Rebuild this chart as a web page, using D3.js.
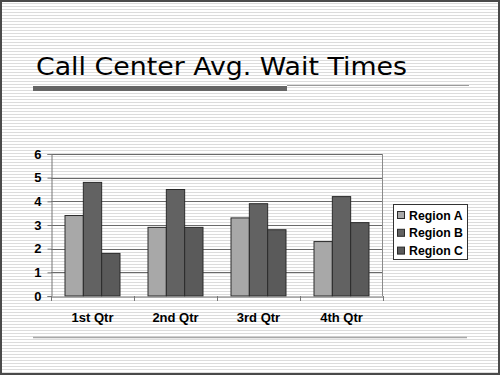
<!DOCTYPE html>
<html><head><meta charset="utf-8">
<script src="https://cdn.jsdelivr.net/npm/d3@7"></script>
<style>html,body{margin:0;padding:0;background:#fff;}svg{display:block;}</style>
</head><body>
<script>
const categories = ["1st Qtr", "2nd Qtr", "3rd Qtr", "4th Qtr"];
const seriesNames = ["Region A", "Region B", "Region C"];
const regionA = [3.4, 2.9, 3.3, 2.3];
const regionB = [4.8, 4.5, 3.9, 4.2];
const regionC = [1.8, 2.9, 2.8, 3.1];
const yTicks = [0, 1, 2, 3, 4, 5, 6];
const title = "Call Center Avg. Wait Times";

const seriesValues = [regionA, regionB, regionC];
const colors = ["#a8a8a8", "#626262", "#5a5a5a"];

const W = 500, H = 375;
const svg = d3.select("body").append("svg").attr("width", W).attr("height", H);

const defs = svg.append("defs");
const pat = defs.append("pattern").attr("id", "stripes").attr("patternUnits", "userSpaceOnUse")
  .attr("width", 6).attr("height", 3);
pat.append("rect").attr("width", 6).attr("height", 3).attr("fill", "#ffffff");
pat.append("rect").attr("y", 0).attr("width", 6).attr("height", 1).attr("fill", "#dcdcdc");

svg.append("rect").attr("width", W).attr("height", H).attr("fill", "url(#stripes)");
svg.append("rect").attr("x", 1).attr("y", 1).attr("width", W - 2).attr("height", H - 2)
  .attr("fill", "none").attr("stroke", "#4a4a4a").attr("stroke-width", 2);

// Title
svg.append("text").attr("x", 36).attr("y", 75).text(title)
  .attr("font-family", "DejaVu Sans").attr("font-size", 25).attr("fill", "#000")
  .attr("textLength", 371).attr("lengthAdjust", "spacingAndGlyphs");
svg.append("line").attr("x1", 287).attr("x2", 469).attr("y1", 85.5).attr("y2", 85.5)
  .attr("stroke", "#9a9a9a").attr("stroke-width", 1);
svg.append("rect").attr("x", 33).attr("y", 86).attr("width", 254).attr("height", 5).attr("fill", "#666");
// bottom rule
svg.append("line").attr("x1", 33).attr("x2", 467).attr("y1", 337.5).attr("y2", 337.5)
  .attr("stroke", "#a8a8a8").attr("stroke-width", 1.5);

// Scales
const x0 = d3.scaleBand().domain(categories).range([51, 383]).paddingInner(0).paddingOuter(0);
const bw = x0.bandwidth();
const x1 = d3.scaleBand().domain(seriesNames).range([bw * 14 / 83, bw * 69 / 83]).padding(0);
const y = d3.scaleLinear().domain([0, 6]).range([296, 154]);

// gridlines
svg.append("g").selectAll("line").data(yTicks.filter(d => d > 0)).join("line")
  .attr("x1", 51).attr("x2", 383)
  .attr("y1", d => Math.round(y(d)) + 0.5).attr("y2", d => Math.round(y(d)) + 0.5)
  .attr("stroke", "#6a6a6a").attr("stroke-width", 1);
// right border of plot
svg.append("line").attr("x1", 382.5).attr("x2", 382.5).attr("y1", y(6)).attr("y2", y(0))
  .attr("stroke", "#8a8a8a");

// bars
const groups = svg.append("g").selectAll("g").data(categories).join("g")
  .attr("transform", d => `translate(${x0(d)},0)`);
groups.selectAll("rect").data((c, i) => seriesNames.map((s, j) => ({ s, v: seriesValues[j][i], j })))
  .join("rect")
  .attr("x", d => x1(d.s)).attr("width", x1.bandwidth())
  .attr("y", d => y(d.v)).attr("height", d => y(0) - y(d.v))
  .attr("fill", d => colors[d.j]).attr("stroke", "#2a2a2a").attr("stroke-width", 1);

// Y axis
const yAxis = svg.append("g").attr("transform", "translate(51.5,0)")
  .call(d3.axisLeft(y).tickValues(yTicks).tickSize(4).tickPadding(6).tickFormat(d3.format("d")));
yAxis.select(".domain").attr("stroke", "#777");
yAxis.selectAll(".tick line").attr("stroke", "#777");
yAxis.selectAll("text").attr("font-family", "Liberation Sans, Arial, sans-serif")
  .attr("font-weight", "bold").attr("font-size", 13).attr("fill", "#000");

// X axis
const xAxis = svg.append("g").attr("transform", `translate(0,${Math.round(y(0)) + 0.5})`)
  .call(d3.axisBottom(x0).tickSize(0).tickPadding(16));
xAxis.select(".domain").attr("stroke", "#777");
xAxis.selectAll("text").attr("font-family", "Liberation Sans, Arial, sans-serif")
  .attr("font-weight", "bold").attr("font-size", 13).attr("fill", "#000");
// category boundary ticks
svg.append("g").selectAll("line").data(categories.concat(["end"])).join("line")
  .attr("x1", (d, i) => Math.round(i < categories.length ? x0(d) : x0(categories[3]) + bw) + 0.5)
  .attr("x2", (d, i) => Math.round(i < categories.length ? x0(d) : x0(categories[3]) + bw) + 0.5)
  .attr("y1", y(0)).attr("y2", y(0) + 5).attr("stroke", "#777");

// Legend
const lg = svg.append("g");
lg.append("rect").attr("x", 393.5).attr("y", 204.5).attr("width", 74).attr("height", 55)
  .attr("fill", "#fff").attr("stroke", "#333");
const li = lg.selectAll("g").data(seriesNames).join("g")
  .attr("transform", (d, i) => `translate(397,${215 + i * 17.8})`);
li.append("rect").attr("x", 0.5).attr("y", -3.5).attr("width", 7).attr("height", 7)
  .attr("fill", (d, i) => colors[i]).attr("stroke", "#2a2a2a");
li.append("text").attr("x", 12).attr("y", 4.5).text(d => d)
  .attr("font-family", "Liberation Sans, Arial, sans-serif").attr("font-weight", "bold")
  .attr("font-size", 12.3).attr("fill", "#000");
</script>
</body></html>
